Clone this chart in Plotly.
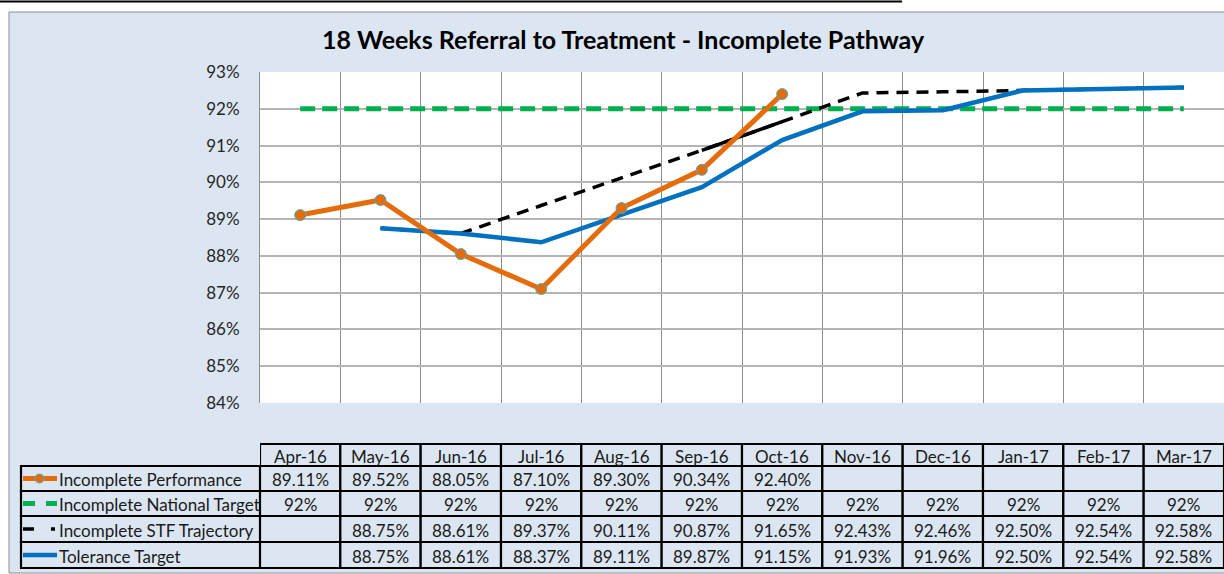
import plotly.graph_objects as go

months = ["Apr-16", "May-16", "Jun-16", "Jul-16", "Aug-16", "Sep-16",
          "Oct-16", "Nov-16", "Dec-16", "Jan-17", "Feb-17", "Mar-17"]
performance = [89.11, 89.52, 88.05, 87.10, 89.30, 90.34, 92.40,
               None, None, None, None, None]
national_target = [92, 92, 92, 92, 92, 92, 92, 92, 92, 92, 92, 92]
stf_trajectory = [None, 88.75, 88.61, 89.37, 90.11, 90.87, 91.65,
                  92.43, 92.46, 92.50, 92.54, 92.58]
tolerance = [None, 88.75, 88.61, 88.37, 89.11, 89.87, 91.15,
             91.93, 91.96, 92.50, 92.54, 92.58]
series_names = ["Incomplete Performance", "Incomplete National Target",
                "Incomplete STF Trajectory", "Tolerance Target"]
title = "18 Weeks Referral to Treatment - Incomplete Pathway"

W, H = 1224, 574
FONT = "Lato"
ORANGE, GREEN, BLUE = "#e46c0a", "#00b050", "#0070c0"
PANEL = "#dce6f2"
TFS = 17


def py(p):
    return 1 - p / H


def px(p):
    return p / W


xi = list(range(len(months)))
fig = go.Figure()

fig.add_trace(go.Scatter(x=xi, y=national_target, mode="lines",
                         line=dict(color=GREEN, width=5, dash="15px,7px"),
                         name=series_names[1]))
fig.add_trace(go.Scatter(x=xi, y=stf_trajectory, mode="lines",
                         line=dict(color="black", width=3.5, dash="12px,8px"),
                         name=series_names[2]))
solid_seg = [v if i in (5, 6) else None for i, v in enumerate(stf_trajectory)]
fig.add_trace(go.Scatter(x=xi, y=solid_seg, mode="lines",
                         line=dict(color="black", width=3.5),
                         showlegend=False))
fig.add_trace(go.Scatter(x=xi, y=tolerance, mode="lines",
                         line=dict(color=BLUE, width=4.5),
                         name=series_names[3]))
fig.add_trace(go.Scatter(x=xi, y=performance, mode="lines+markers",
                         line=dict(color=ORANGE, width=5),
                         marker=dict(size=11, color=ORANGE,
                                     line=dict(color="#4bacc6", width=1)),
                         name=series_names[0]))

shapes = []
annotations = []

# panel background
shapes.append(dict(type="rect", xref="paper", yref="paper",
                   x0=px(9), x1=px(1230), y0=py(573), y1=py(12),
                   fillcolor=PANEL, line=dict(color="#8c8c8c", width=1),
                   layer="below"))
# white plot area
shapes.append(dict(type="rect", xref="paper", yref="paper",
                   x0=px(260), x1=1.0, y0=py(403), y1=py(72),
                   fillcolor="white", line=dict(width=0), layer="below"))
# cropped caption underline at top
shapes.append(dict(type="line", xref="paper", yref="paper",
                   x0=0, x1=px(902), y0=py(1.5), y1=py(1.5),
                   line=dict(color="black", width=2)))

# table geometry
row_edges = [444, 466, 491, 516, 542, 568]
border = dict(color="black", width=2.2)
TXT = "#1a1a1a"


def text_ann(x, y, text, xref="x", xanchor="center"):
    annotations.append(dict(x=x, y=y, xref=xref, yref="paper", text=text,
                            showarrow=False, xanchor=xanchor, yanchor="middle",
                            font=dict(family=FONT, size=TFS, color=TXT)))


# header row
for i, m in enumerate(months):
    shapes.append(dict(type="rect", xref="x", yref="paper",
                       x0=i - 0.5, x1=i + 0.5, y0=py(row_edges[1]), y1=py(row_edges[0]),
                       line=border, fillcolor=PANEL))
    text_ann(i, py((row_edges[0] + row_edges[1]) / 2 + 1), m)

fmt_rows = [
    [("%.2f%%" % v) if v is not None else "" for v in performance],
    [("%d%%" % v) if v is not None else "" for v in national_target],
    [("%.2f%%" % v) if v is not None else "" for v in stf_trajectory],
    [("%.2f%%" % v) if v is not None else "" for v in tolerance],
]

for r in range(4):
    y0p, y1p = row_edges[r + 1], row_edges[r + 2]
    yc = py((y0p + y1p) / 2 + 1)
    shapes.append(dict(type="rect", xref="paper", yref="paper",
                       x0=px(21), x1=px(260), y0=py(y1p), y1=py(y0p),
                       line=border, fillcolor=PANEL))
    text_ann(px(57), yc, series_names[r], xref="paper", xanchor="left")
    for i in range(len(months)):
        shapes.append(dict(type="rect", xref="x", yref="paper",
                           x0=i - 0.5, x1=i + 0.5, y0=py(y1p), y1=py(y0p),
                           line=border, fillcolor=PANEL))
        text_ann(i, yc, fmt_rows[r][i])


# legend keys in table
def key_line(x0, x1, yc, color, width, dash="solid"):
    shapes.append(dict(type="line", xref="paper", yref="paper",
                       x0=px(x0), x1=px(x1), y0=yc, y1=yc,
                       line=dict(color=color, width=width, dash=dash)))


yk = [py((row_edges[r + 1] + row_edges[r + 2]) / 2) for r in range(4)]
key_line(23, 57, yk[0], ORANGE, 5)
shapes.append(dict(type="circle", xref="paper", yref="paper",
                   x0=px(35), x1=px(44), y0=yk[0] - 4.5 / H, y1=yk[0] + 4.5 / H,
                   fillcolor=ORANGE, line=dict(color="#4bacc6", width=1)))
key_line(23, 35, yk[1], GREEN, 5)
key_line(46, 57, yk[1], GREEN, 5)
key_line(23, 34, yk[2], "black", 3.5)
key_line(51, 55, yk[2], "black", 3.5)
key_line(23, 57, yk[3], BLUE, 4.5)

annotations.append(dict(x=px(623), y=py(39), xref="paper", yref="paper",
                        text="<b>" + title + "</b>", showarrow=False,
                        xanchor="center", yanchor="middle",
                        font=dict(family=FONT, size=25, color="black")))

fig.update_layout(
    width=W, height=H, autosize=False,
    margin=dict(l=0, r=0, t=0, b=0, pad=0, autoexpand=False),
    paper_bgcolor="white", plot_bgcolor="white",
    showlegend=False,
    shapes=shapes, annotations=annotations,
    xaxis=dict(domain=[px(260), 1.0], range=[-0.5, 11.5],
               tickmode="array", tickvals=[i - 0.5 for i in range(13)],
               showticklabels=False, showgrid=True, gridcolor="#8c8c8c",
               gridwidth=1, zeroline=False, showline=False, ticks="",
               automargin=False),
    yaxis=dict(domain=[py(403), py(72)], range=[84, 93], dtick=1,
               ticksuffix="%", showgrid=True, gridcolor="#b4b4b4", gridwidth=1.5,
               zeroline=False, showline=True, linecolor="#8c8c8c", linewidth=1,
               ticks="", ticklabelstandoff=16, automargin=False,
               tickfont=dict(family=FONT, size=TFS, color="#262626")),
)

pin = ("document.body.style.margin='0';"
       "var gd=document.getElementById('{plot_id}');"
       "gd.style.position='fixed';gd.style.left='0px';gd.style.top='0px';")
fig.write_html("out.html", post_script=pin, config={"displayModeBar": False})
